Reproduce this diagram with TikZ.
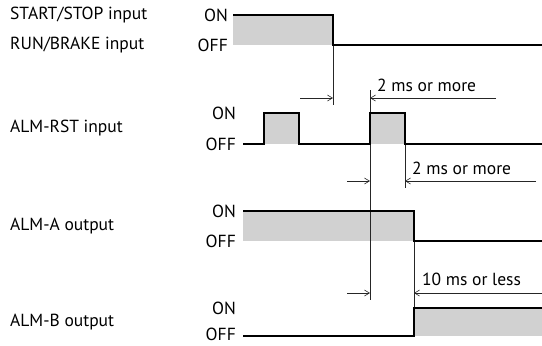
\documentclass[tikz,border=0pt]{standalone}
\usepackage{fontspec}
\setmainfont{PT Sans}
\usetikzlibrary{arrows.meta}
\begin{document}
\begin{tikzpicture}[x=1pt,y=-1pt,
    font=\fontsize{17.5}{20}\selectfont,
    sig/.style={line width=1.8pt},
    pulse/.style={fill=black!18},
    dim/.style={line width=0.6pt,black!85},
    meas/.style={dim,-{Straight Barb[length=5pt,width=6pt]}},
    lbl/.style={anchor=west,inner sep=0pt},
    lvl/.style={anchor=east,inner sep=0pt}]

    \useasboundingbox (0,0) rectangle (542,346);

    % Signal names
    \node[lbl] (ssname) at (10,15) {START/STOP input};
    \node[lbl] (rbname) at (10,45) {RUN/BRAKE input};
    \node[lbl] (rstname) at (10,128) {ALM-RST input};
    \node[lbl] (aname) at (10,226) {ALM-A output};
    \node[lbl] (bname) at (10,322) {ALM-B output};

    % Levels
    \node[lvl] (on1) at (228,15) {ON};
    \node[lvl] (off1) at (228,45) {OFF};
    \node[lvl] (on2) at (236,113) {ON};
    \node[lvl] (off2) at (236,144) {OFF};
    \node[lvl] (on3) at (236,211) {ON};
    \node[lvl] (off3) at (236,241) {OFF};
    \node[lvl] (on4) at (236,308) {ON};
    \node[lvl] (off4) at (236,334) {OFF};

    % Shaded ON states
    \fill[pulse] (233,15) rectangle (333,45);
    \fill[pulse] (264,113) rectangle (299,144);
    \fill[pulse] (370,113) rectangle (405,144);
    \fill[pulse] (243,211) rectangle (414,241);
    \fill[pulse] (414,308) rectangle (542,336);

    % Timing marks
    \draw[dim] (333,45) -- (333,105);
    \draw[dim] (370,90) -- (370,300);
    \draw[dim] (405,144) -- (405,188);
    \draw[dim] (414,241) -- (414,308);

    % Intervals
    \draw[meas] (300,98) -- (333,98);
    \draw[meas] (496,98) -- (370,98);
    \node[anchor=base west,inner sep=0pt] (d1) at (377,91) {2 ms or more};

    \draw[meas] (347,181) -- (370,181);
    \draw[meas] (536,181) -- (405,181);
    \node[anchor=base west,inner sep=0pt] (d2) at (412,174) {2 ms or more};

    \draw[meas] (347,293) -- (370,293);
    \draw[meas] (542,293) -- (414,293);
    \node[anchor=base west,inner sep=0pt] (d3) at (422,285) {10 ms or less};

    % Waveforms
    \draw[sig] (233,15) -- (333,15) -- (333,45) -- (542,45);
    \draw[sig] (243,144) -- (264,144) -- (264,113) -- (299,113) -- (299,144)
        -- (370,144) -- (370,113) -- (405,113) -- (405,144) -- (542,144);
    \draw[sig] (243,211) -- (414,211) -- (414,241) -- (542,241);
    \draw[sig] (243,336) -- (414,336) -- (414,308) -- (542,308);

\end{tikzpicture}
\end{document}
